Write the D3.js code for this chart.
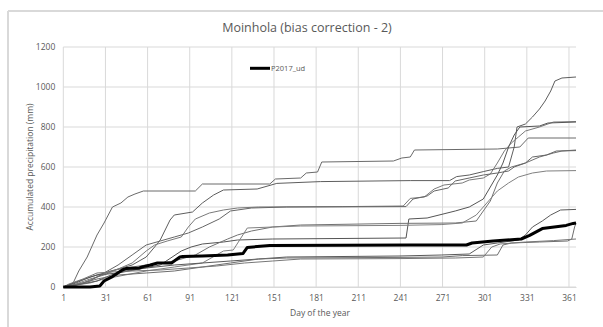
<!DOCTYPE html>
<html>
<head>
<meta charset="utf-8">
<script src="https://cdn.jsdelivr.net/npm/d3@7"></script>
<style>
  body { margin: 0; background: #fff; }
  text { font-family: "Open Sans", "Liberation Sans", sans-serif; fill: #595959; }
</style>
</head>
<body>
<div id="chart"></div>
<script>
const title = "Moinhola (bias correction - 2)";
const yTitle = "Accumulated precipitation (mm)";
const xTitle = "Day of the year";
const legendLabel = "P2017_ud";

const xTicks = [1, 31, 61, 91, 121, 151, 181, 211, 241, 271, 301, 331, 361];
const yTicks = [0, 200, 400, 600, 800, 1000, 1200];

// [day, accumulated mm]
const p2017 = [[1,0],[20,0],[27,5],[30,30],[36,52],[43,85],[46,93],[55,95],[58,102],[63,110],[68,120],[78,120],[84,150],[86,152],[100,155],[118,160],[129,168],[132,198],[148,207],[248,210],[288,210],[292,220],[307,230],[327,240],[333,258],[342,292],[359,308],[364,318],[366,320]];

const run1 = [[1,0],[8,20],[12,80],[18,150],[25,260],[30,320],[36,400],[42,420],[47,450],[52,465],[58,480],[95,480],[100,515],[148,515],[152,540],[170,545],[174,570],[182,575],[185,625],[236,630],[242,645],[248,650],[251,685],[310,690],[326,700],[332,745],[366,745]];
const run2 = [[1,0],[10,20],[20,50],[30,70],[40,90],[50,110],[60,150],[66,200],[70,235],[77,335],[80,360],[93,375],[100,420],[108,460],[115,485],[139,490],[153,518],[184,527],[248,532],[276,532],[281,552],[290,560],[300,577],[310,593],[318,600],[322,700],[324,800],[330,815],[335,850],[340,890],[344,930],[348,980],[351,1030],[356,1045],[366,1050]];
const run3 = [[1,0],[10,15],[20,40],[30,60],[40,90],[50,120],[60,180],[66,210],[75,230],[85,250],[90,300],[95,340],[105,370],[115,385],[125,395],[140,400],[200,402],[243,405],[248,443],[258,450],[265,490],[272,510],[285,520],[290,535],[300,545],[305,565],[310,620],[315,680],[320,720],[325,750],[330,780],[340,800],[350,825],[366,827]];
const run4 = [[1,0],[12,30],[25,60],[40,70],[55,90],[70,110],[85,180],[92,200],[100,215],[115,225],[125,235],[150,240],[245,245],[247,340],[260,345],[280,380],[290,400],[300,440],[305,500],[310,560],[314,620],[318,700],[322,760],[326,800],[340,805],[346,820],[366,825]];
const run5 = [[1,0],[15,20],[25,50],[35,80],[45,95],[60,110],[80,130],[95,160],[105,200],[118,240],[125,260],[135,280],[150,300],[170,310],[240,318],[280,320],[295,330],[300,380],[305,430],[310,520],[315,580],[320,600],[330,620],[340,650],[350,670],[356,680],[366,685]];
const run6 = [[1,0],[10,10],[20,30],[30,70],[40,110],[50,160],[60,210],[70,230],[80,250],[90,270],[100,300],[112,340],[120,380],[135,395],[160,400],[245,402],[250,440],[260,455],[265,480],[275,495],[280,530],[290,545],[300,560],[310,570],[318,580],[322,600],[330,620],[335,650],[345,660],[352,680],[366,682]];
const run7 = [[1,0],[20,20],[30,40],[45,60],[60,80],[80,100],[100,120],[115,180],[122,185],[132,295],[150,300],[170,305],[240,308],[270,312],[285,320],[295,360],[300,400],[305,440],[310,480],[318,520],[325,550],[335,570],[345,580],[366,582]];
const run8 = [[1,0],[10,10],[25,30],[35,60],[45,80],[60,95],[80,110],[100,120],[120,130],[140,140],[160,150],[240,155],[270,160],[290,165],[300,210],[310,220],[325,235],[330,260],[335,300],[342,330],[348,360],[355,385],[366,388]];
const run9 = [[1,0],[15,20],[25,40],[40,60],[60,70],[80,80],[100,100],[120,120],[140,140],[160,145],[240,148],[271,150],[285,157],[310,160],[314,210],[320,220],[340,225],[360,230],[363,240],[365,300],[366,320]];
const run10 = [[1,0],[5,15],[15,40],[25,70],[35,75],[50,80],[70,85],[90,95],[110,105],[130,120],[150,130],[170,140],[240,142],[280,145],[300,150],[306,200],[312,215],[330,225],[350,232],[366,240]];

const otherRuns = [run1, run2, run3, run4, run5, run6, run7, run8, run9, run10];
const runColors = ["#6a6a6a", "#5e5e5e", "#7a7a7a", "#555555", "#727272", "#666666", "#808080", "#5a5a5a", "#6e6e6e", "#777777"];

const width = 603, height = 327;
const svg = d3.select("#chart").append("svg")
  .attr("width", width)
  .attr("height", height);

// chart frame (only top and left edges show in the crop)
svg.append("line").attr("x1", 8).attr("x2", width).attr("y1", 11).attr("y2", 11)
  .attr("stroke", "#d9d9d9").attr("stroke-width", 2);
svg.append("line").attr("x1", 8).attr("x2", 8).attr("y1", 11).attr("y2", height)
  .attr("stroke", "#d9d9d9").attr("stroke-width", 2);

const x = d3.scaleLinear().domain([1, 366]).range([63.3, 576]);
const y = d3.scaleLinear().domain([0, 1200]).range([287, 47]);

// gridlines
svg.append("g")
  .selectAll("line")
  .data(yTicks)
  .enter()
  .append("line")
  .attr("x1", x(1)).attr("x2", x(366))
  .attr("y1", (d) => y(d)).attr("y2", (d) => y(d))
  .attr("stroke", "#d9d9d9").attr("stroke-width", 1);

svg.append("g")
  .selectAll("line")
  .data(xTicks)
  .enter()
  .append("line")
  .attr("x1", (d) => x(d)).attr("x2", (d) => x(d))
  .attr("y1", y(0)).attr("y2", y(1200))
  .attr("stroke", "#d9d9d9").attr("stroke-width", 1);

// axes
const xAxis = svg.append("g")
  .attr("transform", `translate(0,${y(0)})`)
  .call(d3.axisBottom(x).tickValues(xTicks).tickFormat(d3.format("d")).tickSize(0).tickPadding(8));
xAxis.select(".domain").attr("stroke", "#d9d9d9");
xAxis.selectAll("text").style("font-size", "8.5px").attr("fill", "#595959");

const yAxis = svg.append("g")
  .attr("transform", `translate(${x(1)},0)`)
  .call(d3.axisLeft(y).tickValues(yTicks).tickFormat(d3.format("d")).tickSize(0).tickPadding(8));
yAxis.select(".domain").remove();
yAxis.selectAll("text").style("font-size", "8.5px").attr("fill", "#595959");

// series
const line = d3.line()
  .x((d) => x(d[0]))
  .y((d) => y(d[1]));

svg.append("g")
  .selectAll("path")
  .data(otherRuns)
  .enter()
  .append("path")
  .attr("d", line)
  .attr("fill", "none")
  .attr("stroke", (d, i) => runColors[i])
  .attr("stroke-width", 1)
  .attr("stroke-linejoin", "round");

svg.append("path")
  .datum(p2017)
  .attr("d", line)
  .attr("fill", "none")
  .attr("stroke", "#000")
  .attr("stroke-width", 3)
  .attr("stroke-linejoin", "round");

// title & axis titles
svg.append("text")
  .attr("x", 307).attr("y", 32)
  .attr("text-anchor", "middle")
  .style("font-size", "12.5px")
  .text(title);

svg.append("text")
  .attr("transform", `translate(33,${(y(0) + y(1200)) / 2}) rotate(-90)`)
  .attr("text-anchor", "middle")
  .style("font-size", "8.5px")
  .text(yTitle);

svg.append("text")
  .attr("x", 320).attr("y", 316)
  .attr("text-anchor", "middle")
  .style("font-size", "8.5px")
  .text(xTitle);

// legend
svg.append("line")
  .attr("x1", 250).attr("x2", 270).attr("y1", 68.3).attr("y2", 68.3)
  .attr("stroke", "#000").attr("stroke-width", 3);
svg.append("text")
  .attr("x", 271).attr("y", 71)
  .style("font-size", "7.5px")
  .text(legendLabel);
</script>
</body>
</html>
